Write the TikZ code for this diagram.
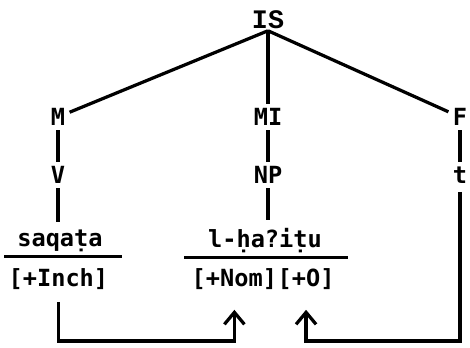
\documentclass[tikz,border=0pt]{standalone}
\usepackage{fontspec}
\setmonofont{DejaVu Sans Mono}
\newfontfamily\rootfont{Liberation Mono}
\usetikzlibrary{arrows.meta,positioning,calc}
\tikzset{
  lab/.style={inner sep=3pt, font=\fontsize{16.8}{18}\selectfont\ttfamily\bfseries},
  feat/.style={lab, inner sep=0pt},
  branch/.style={line width=2.3pt},
  bar/.style={line width=1.8pt},
  flow/.style={line width=2.3pt, -{Straight Barb[length=3mm,width=5mm]}}
}

\begin{document}
\begin{tikzpicture}
  \useasboundingbox (0,0) rectangle (11.75,-8.7);
  \node[font=\fontsize{19}{20}\selectfont\rootfont\bfseries, inner sep=1pt] (is) at (6.7,-0.5) {IS};
  \node[lab] (m) at (1.45,-2.925) {M};
  \node[lab] (mi) at (6.7,-2.925) {MI};
  \node[lab] (f) at (11.5,-2.925) {F};
  \node[lab] (v) at (1.45,-4.375) {V};
  \node[lab] (np) at (6.7,-4.375) {NP};
  \node[lab] (t) at (11.5,-4.375) {t};
  \node[lab] (sq) at (1.5,-6.025) {saqaṭa};
  \node[lab] (ha) at (6.625,-6.025) {l-ḥa?iṭu};
  \node[feat] (inch) at (1.46,-6.975) {[+Inch]};
  \node[feat] (nom) at (5.86,-6.975) {[+Nom]};
  \node[feat, right=0pt of nom] (obj) {[+O]};
  \coordinate (low) at (0,-8.525);
  % tree
  \draw[branch] (is.south) -- (m);
  \draw[branch] (is.south) -- (mi);
  \draw[branch] (is.south) -- (f);
  \draw[branch] (m) -- (v);
  \draw[branch, shorten >=1mm] (v) -- (v |- sq.north);
  \draw[branch] (mi) -- (np);
  \draw[branch, shorten >=1mm] (np) -- (np |- ha.north);
  \draw[branch] (f) -- (t);
  % underlines
  \draw[bar] ([xshift=-2.2mm]sq.south west) -- ([xshift=3.7mm]sq.south east);
  \draw[bar] ([xshift=-4.8mm]ha.south west) -- ([xshift=5.5mm]ha.south east);
  % arrows
  \draw[flow] ([yshift=-3mm]inch.south) |- (low -| nom) -- ([yshift=-5mm]nom.south);
  \draw[flow] ([yshift=-1mm]t.south) -- (t |- low) -| ([yshift=-5mm]obj.south);
\end{tikzpicture}
\end{document}
